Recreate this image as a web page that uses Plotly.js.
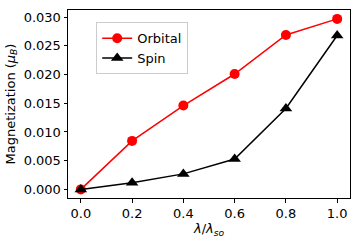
<!DOCTYPE html>
<html>
<head>
<meta charset="utf-8">
<script src="https://cdn.plot.ly/plotly-3.0.1.min.js"></script>
<style>html,body{margin:0;padding:0;background:#fff;}#chart{width:360px;height:241px;}</style>
</head>
<body>
<div id="chart"></div>
<script>
const lambdaRatio = [0.0, 0.2, 0.4, 0.6, 0.8, 1.0];
const orbital = [0.0, 0.00845, 0.0146, 0.0201, 0.0269, 0.0297];
const spin = [0.0, 0.00115, 0.0027, 0.0053, 0.0141, 0.0268];
const seriesNames = ['Orbital', 'Spin'];

const font = {family: 'DejaVu Sans, sans-serif', size: 13, color: '#000'};

const traces = [
  {x: lambdaRatio, y: orbital, name: seriesNames[0], type: 'scatter', mode: 'lines+markers',
   line: {color: '#ff0000', width: 1.5}, marker: {symbol: 'circle', size: 10, color: '#ff0000'}},
  {x: lambdaRatio, y: spin, name: seriesNames[1], type: 'scatter', mode: 'lines+markers',
   line: {color: '#000000', width: 1.5}, marker: {symbol: 'triangle-up', size: 11, color: '#000000'}}
];

const axisCommon = {
  showgrid: false, zeroline: false, showline: true, mirror: true,
  linecolor: '#000', linewidth: 1, ticks: 'outside', ticklen: 3.5, tickwidth: 1,
  tickcolor: '#000', tickfont: font
};

const layout = {
  width: 360, height: 241,
  margin: {l: 67.5, r: 10, t: 9.5, b: 43},
  paper_bgcolor: '#fff', plot_bgcolor: '#fff',
  font: font,
  showlegend: true,
  legend: {x: 0.1, y: 0.935, xanchor: 'left', yanchor: 'top',
           bordercolor: '#cccccc', borderwidth: 1, bgcolor: '#fff',
           tracegroupgap: 0,
           font: {family: 'DejaVu Sans, sans-serif', size: 13, color: '#000'}},
  xaxis: Object.assign({}, axisCommon, {
    range: [-0.05, 1.05], tickvals: lambdaRatio, tickformat: '.1f',
    title: {text: '<i>λ</i>/<i>λ</i><sub><i>so</i></sub>', font: font, standoff: 3}
  }),
  yaxis: Object.assign({}, axisCommon, {
    range: [-0.0015, 0.03125], dtick: 0.005, tick0: 0, tickformat: '.3f',
    title: {text: 'Magnetization (<i>μ</i><sub><i>B</i></sub>)', font: font, standoff: 5}
  })
};

Plotly.newPlot('chart', traces, layout, {displayModeBar: false, staticPlot: true});
</script>
</body>
</html>
